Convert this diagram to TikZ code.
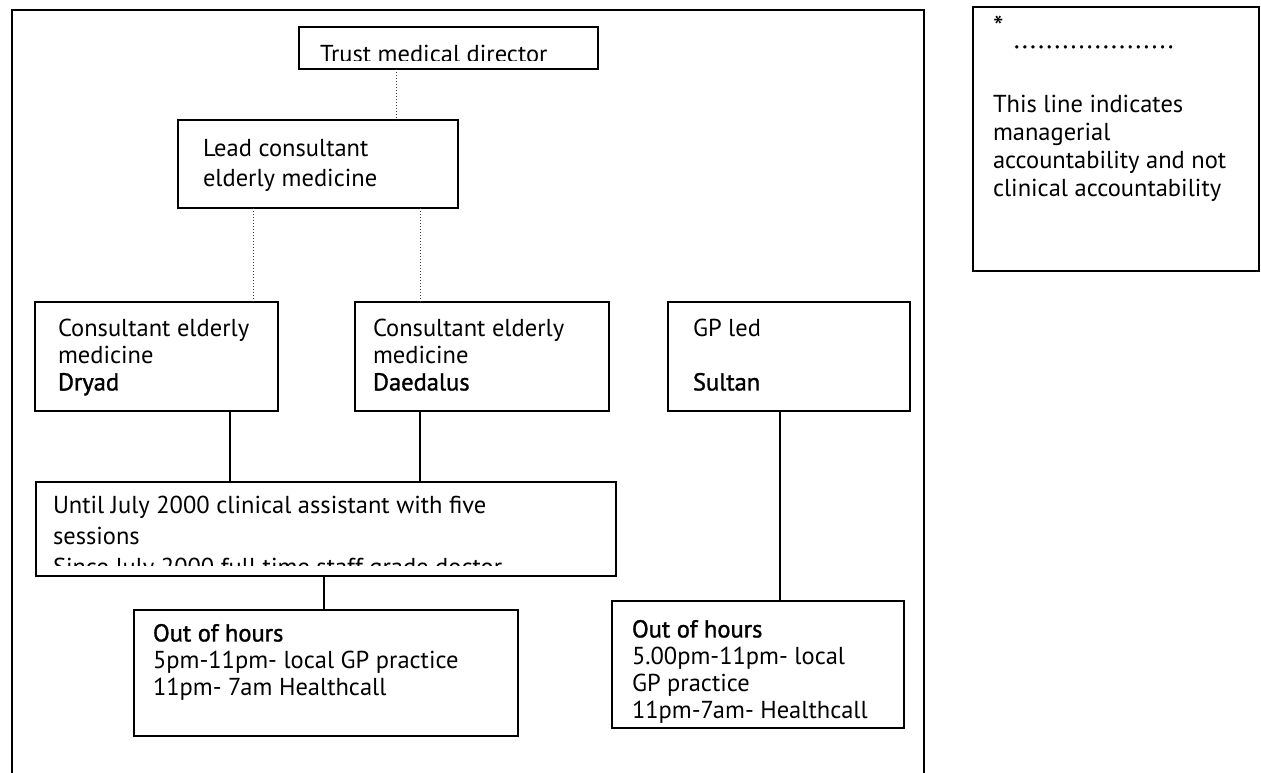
\documentclass[tikz,border=0pt]{standalone}
\usepackage{fontspec}
\setmainfont{PT Sans}
\newfontfamily\medfont{PT Sans}[FakeBold=1.3]
\usetikzlibrary{positioning}
\tikzset{
  box/.style={draw, line width=1.6pt, rectangle, inner sep=0pt, outer sep=0pt, anchor=north west},
  txt/.style={inner sep=0pt, outer sep=0pt, align=left, font=\fontsize{24.5}{27}\selectfont},
  note/.style={inner sep=0pt, outer sep=0pt, align=left, font=\fontsize{24.5}{28}\selectfont},
  mgmt/.style={line width=1pt, dash pattern=on 1pt off 2pt, black!75},
  clin/.style={line width=1.5pt},
}
\newcommand{\legdot}{\makebox[8.1pt][l]{.}}
\begin{document}
\begin{tikzpicture}[x=1pt, y=-1pt]
        \useasboundingbox (0,0) rectangle (1261,773);
        % 外枠
        \draw[line width=1.8pt] (12,773) -- (12,10) -- (924,10) -- (924,773);

        % 箱の描画
        \node[box, minimum width=299pt, minimum height=42pt] (trust) at (299,27) {};
        \node[box, minimum width=280pt, minimum height=88pt] (lead) at (178,120) {};
        \node[box, minimum width=243pt, minimum height=109pt] (dryad) at (35,302) {};
        \node[box, minimum width=254pt, minimum height=109pt] (daedalus) at (355,302) {};
        \node[box, minimum width=242pt, minimum height=109pt] (sultan) at (668,302) {};
        \node[box, minimum width=580pt, minimum height=94pt] (assist) at (36,482) {};
        \node[box, minimum width=384pt, minimum height=126pt] (ooh) at (134,610) {};
        \node[box, minimum width=292pt, minimum height=127pt] (oohs) at (612,601) {};
        \node[box, minimum width=286pt, minimum height=264pt] (legend) at (973,7) {};

        % 文字の描画
        \begin{scope}
            \clip (trust.north west) rectangle ([yshift=8.5pt]trust.south east);
            \node[txt, below right=18pt and 21pt of trust.north west] (trust-t) {Trust medical director};
        \end{scope}
        \node[txt, below right=19pt and 25pt of lead.north west] (lead-t) {Lead consultant\\[3pt]elderly medicine};
        \node[txt, below right=17pt and 23pt of dryad.north west] (dryad-t) {Consultant elderly\\medicine\\{\medfont Dryad}};
        \node[txt, below right=17pt and 18pt of daedalus.north west] (daedalus-t) {Consultant elderly\\medicine\\{\medfont Daedalus}};
        \node[txt, below right=17pt and 25pt of sultan.north west] (sultan-t) {GP led\\[27pt]{\medfont Sultan}};
        \begin{scope}
            \clip (assist.north west) rectangle ([yshift=11pt]assist.south east);
            \node[txt, below right=14pt and 17pt of assist.north west] (assist-t) {Until July 2000 clinical assistant with five\\[4pt]sessions\\[4pt]Since July 2000 full time staff grade doctor};
        \end{scope}
        \node[txt, below right=14pt and 19pt of ooh.north west] (ooh-t) {{\medfont Out of hours}\\5pm-11pm- local GP practice\\11pm- 7am Healthcall};
        \node[txt, below right=19pt and 20pt of oohs.north west] (oohs-t) {{\medfont Out of hours}\\5.00pm-11pm- local\\GP practice\\11pm-7am- Healthcall};

        % 凡例
        \node[inner sep=0pt, anchor=north west, font=\fontsize{30}{30}\selectfont] (star) at (993,16) {*};
        \node[inner sep=0pt, anchor=base west, font=\fontsize{24}{24}\selectfont\medfont] (dots) at (1014,48)
            {\legdot\legdot\legdot\legdot\legdot\legdot\legdot\legdot\legdot\legdot\legdot\legdot\legdot\legdot\legdot\legdot\legdot\legdot\legdot\legdot};
        \node[note, below right=88pt and 20pt of legend.north west] (legend-t) {This line indicates\\managerial\\accountability and not\\clinical accountability};

        % 線の描画
        \coordinate (dA) at (396,0);
        \coordinate (dB) at (253,0);
        \coordinate (dC) at (420,0);
        \coordinate (sA) at (230,0);
        \coordinate (sB) at (420,0);
        \coordinate (sC) at (324,0);
        \coordinate (sD) at (780,0);
        \draw[mgmt] (trust.south -| dA) -- (lead.north -| dA);
        \draw[mgmt] (lead.south -| dB) -- (dryad.north -| dB);
        \draw[mgmt] (lead.south -| dC) -- (daedalus.north -| dC);
        \draw[clin] (dryad.south -| sA) -- (assist.north -| sA);
        \draw[clin] (daedalus.south -| sB) -- (assist.north -| sB);
        \draw[clin] (assist.south -| sC) -- (ooh.north -| sC);
        \draw[clin] (sultan.south -| sD) -- (oohs.north -| sD);
\end{tikzpicture}
\end{document}
